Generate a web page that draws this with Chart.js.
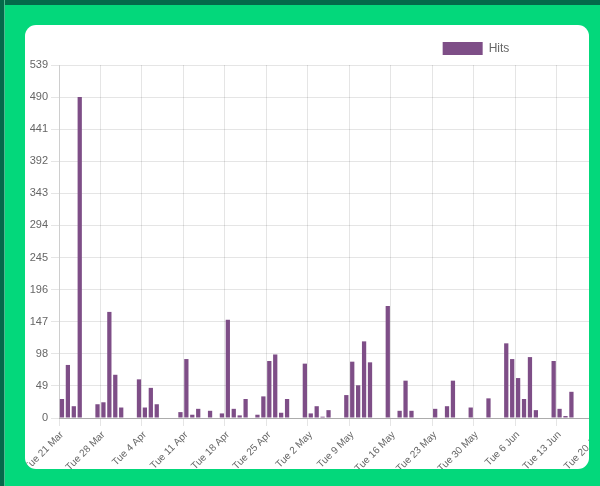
<!DOCTYPE html>
<html>
<head>
<meta charset="utf-8">
<title>Hits</title>
<script src="https://cdn.jsdelivr.net/npm/chart.js@4.4.0/dist/chart.umd.min.js"></script>
<style>
  html, body { margin: 0; padding: 0; }
  body { width: 600px; height: 486px; overflow: hidden; background: #03d87b; position: relative; }
  .frame-top { position: absolute; left: 0; top: 0; width: 600px; height: 5px; background: #046a4a; }
  .frame-left { position: absolute; left: 0; top: 0; width: 4px; height: 486px; background: #046a4a; border-right: 1px solid #4fb98f; }
  .card { position: absolute; left: 25px; top: 25px; width: 564px; height: 444px; background: #fff; border-radius: 11px; overflow: hidden; }
  .card canvas { position: absolute; left: -25px; top: -25px; }
</style>
</head>
<body>
<div class="frame-top"></div>
<div class="frame-left"></div>
<div class="card">
  <canvas id="hitsChart" width="614" height="486"></canvas>
</div>
<script>
// one bar per day, starting Tue 21 Mar
const startDate = '2023-03-21';

const weekTicks = [
  'Tue 21 Mar', 'Tue 28 Mar', 'Tue 4 Apr', 'Tue 11 Apr', 'Tue 18 Apr',
  'Tue 25 Apr', 'Tue 2 May', 'Tue 9 May', 'Tue 16 May', 'Tue 23 May',
  'Tue 30 May', 'Tue 6 Jun', 'Tue 13 Jun', 'Tue 20 Jun'
];

// daily hits, one row per week (Tue..Mon)
const hits = [
  29, 81, 18, 490, 0, 0, 21,
  24, 162, 66, 16, 0, 0, 59,
  16, 46, 21, 0, 0, 0, 9,
  90, 5, 14, 0, 11, 0, 7,
  150, 14, 4, 29, 0, 5, 33,
  87, 97, 8, 29, 0, 0, 83,
  7, 18, 2, 12, 0, 0, 35,
  86, 50, 117, 85, 0, 0, 171,
  0, 11, 57, 11, 0, 0, 0,
  14, 0, 18, 57, 0, 0, 16,
  0, 0, 30, 0, 0, 114, 90,
  61, 29, 93, 12, 0, 0, 87,
  14, 3, 40, 0, 0, 0, 0,
  0
];

const yMax = 539;
const yStep = 49;

const days = [];
for (let i = 0; i < hits.length; i++) {
  const d = new Date(startDate + 'T00:00:00Z');
  d.setUTCDate(d.getUTCDate() + i);
  days.push(d.toISOString().slice(0, 10));
}

// the chart is wider than its card, the legend sits over the visible part
const legendNudge = {
  id: 'legendNudge',
  afterLayout(chart, args, opts) {
    chart.legend.left += opts.x;
    chart.legend.right += opts.x;
  }
};

Chart.defaults.font.family = "'Liberation Sans', Arial, sans-serif";
Chart.defaults.color = '#666';

const ctx = document.getElementById('hitsChart').getContext('2d');
new Chart(ctx, {
  type: 'bar',
  data: {
    labels: days,
    datasets: [{
      label: 'Hits',
      data: hits,
      backgroundColor: '#7e4e87',
      borderWidth: 0
    }]
  },
  options: {
    responsive: false,
    animation: false,
    layout: { padding: { left: 28, right: 10, top: 42, bottom: 0 } },
    plugins: {
      legend: {
        position: 'top',
        labels: { boxWidth: 40, boxHeight: 13, padding: 0, font: { size: 12 }, color: '#666' }
      },
      legendNudge: { x: 160 },
      tooltip: { enabled: false }
    },
    scales: {
      x: {
        grid: {
          offset: true,
          color: c => c.index % 7 === 0 ? 'rgba(0,0,0,0.1)' : 'transparent'
        },
        border: { color: 'rgba(0,0,0,0.25)' },
        ticks: {
          autoSkip: false,
          minRotation: 45,
          maxRotation: 45,
          font: { size: 10 },
          callback: (value, index) => index % 7 === 0 ? weekTicks[index / 7] : ''
        },
        afterFit: s => { s.height = 68; s.paddingLeft = 0; s.paddingRight = 0; }
      },
      y: {
        min: 0,
        max: yMax,
        ticks: { stepSize: yStep, font: { size: 11 } },
        afterFit: s => { s.width = 31; }
      }
    }
  },
  plugins: [legendNudge]
});
</script>
</body>
</html>
